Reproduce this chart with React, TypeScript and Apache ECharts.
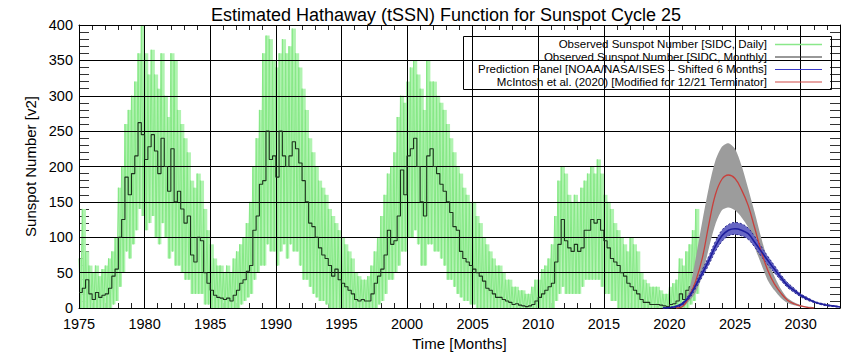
import React, { useEffect, useRef } from "react";
import * as echarts from "echarts";

// ---------------- data ----------------
const START_YEAR = 1975;
const STEP = 0.25; // quarter-year resolution

// Observed monthly sunspot number (quarterly reading of the step curve), from 1975.0
const monthlySSN = [
  22, 28, 40, 20, 12, 22, 15, 18, 20, 28, 45, 55, 100, 125, 185, 160,
  190, 215, 262, 245, 210, 228, 245, 222, 190, 240, 200, 165, 225, 150, 165, 140,
  120, 130, 75, 65, 100, 95, 50, 35, 25, 18, 15, 14, 12, 14, 10, 18,
  25, 35, 40, 52, 60, 110, 130, 175, 180, 250, 210, 215, 185, 250, 215, 200,
  215, 235, 225, 205, 180, 150, 120, 115, 100, 85, 75, 70, 60, 45, 55, 40,
  35, 30, 25, 20, 12, 10, 12, 10, 10, 20, 35, 45, 55, 75, 110, 90,
  95, 130, 195, 160, 215, 225, 240, 200, 150, 130, 215, 225, 200, 190, 175, 165,
  150, 135, 115, 110, 80, 70, 65, 60, 55, 50, 45, 38, 28, 25, 20, 15,
  15, 12, 10, 8, 5, 6, 4, 3, 2, 3, 5, 10, 15, 20, 25, 30,
  35, 65, 90, 125, 95, 85, 80, 90, 80, 85, 110, 110, 125, 120, 125, 110,
  95, 85, 70, 65, 60, 50, 45, 35, 30, 25, 20, 12, 8, 8, 5, 5,
  5, 4, 3, 2, 5, 6, 10, 20, 12, 25, 30, 35, 55,
];

// Daily sunspot number: upper and lower envelope of the daily spikes per quarter
const dailyHigh = [
  70, 140, 80, 60, 50, 60, 45, 55, 60, 70, 80, 100, 170, 200, 260, 280,
  300, 320, 360, 400, 360, 330, 365, 330, 310, 360, 300, 270, 360, 350, 280, 260,
  240, 220, 180, 170, 190, 180, 140, 110, 90, 70, 60, 60, 50, 60, 50, 70,
  80, 90, 100, 120, 150, 200, 240, 280, 360, 385, 380, 350, 340, 360, 380, 360,
  370, 395, 360, 340, 310, 280, 240, 220, 200, 180, 170, 160, 140, 130, 120, 110,
  100, 90, 80, 70, 50, 45, 40, 40, 45, 60, 80, 100, 130, 160, 190, 200,
  220, 270, 300, 290, 320, 340, 350, 330, 310, 280, 350, 320, 320, 300, 290, 280,
  260, 240, 220, 200, 190, 170, 160, 150, 150, 130, 120, 100, 90, 80, 70, 60,
  60, 50, 40, 40, 30, 30, 25, 25, 20, 20, 30, 40, 40, 55, 60, 70,
  90, 130, 180, 200, 190, 160, 150, 160, 150, 170, 180, 190, 200, 190, 210, 190,
  160, 150, 140, 120, 110, 100, 90, 80, 100, 90, 80, 50, 40, 35, 30, 30,
  30, 25, 20, 20, 30, 35, 40, 70, 60, 80, 90, 110, 140,
];
const dailyLow = [
  0, 0, 0, 0, 0, 0, 0, 0, 0, 0, 5, 10, 30, 50, 80, 70,
  90, 110, 140, 130, 110, 120, 130, 100, 90, 120, 100, 70, 80, 60, 60, 50,
  40, 40, 20, 20, 20, 20, 5, 5, 0, 0, 0, 0, 0, 0, 0, 0,
  0, 5, 10, 15, 20, 40, 50, 60, 60, 90, 80, 80, 60, 80, 90, 70,
  90, 80, 80, 60, 40, 40, 30, 20, 15, 10, 10, 5, 0, 0, 0, 0,
  0, 0, 0, 0, 0, 0, 0, 0, 0, 0, 0, 5, 10, 20, 40, 40,
  50, 60, 80, 80, 100, 100, 110, 90, 60, 60, 90, 90, 80, 80, 70, 60,
  40, 40, 30, 20, 15, 10, 10, 5, 5, 0, 0, 0, 0, 0, 0, 0,
  0, 0, 0, 0, 0, 0, 0, 0, 0, 0, 0, 0, 0, 0, 0, 0,
  0, 10, 20, 30, 20, 20, 20, 20, 20, 30, 40, 40, 40, 40, 40, 30,
  20, 20, 10, 10, 0, 0, 0, 0, 0, 0, 0, 0, 0, 0, 0, 0,
  0, 0, 0, 0, 0, 0, 0, 0, 0, 0, 5, 10, 20,
];

// McIntosh et al. (2020) prediction with its range
const mcYears = [
  2020.5, 2021, 2021.5, 2022, 2022.5, 2023, 2023.5, 2024, 2024.5, 2025, 2025.5,
  2026, 2026.5, 2027, 2027.5, 2028, 2028.5, 2029, 2029.5, 2030, 2030.5, 2031,
];
const mcIntosh = [0, 2, 16, 38, 70, 118, 160, 182, 188, 183, 167, 145, 113, 80, 53, 34, 21, 11, 6, 3, 1, 0];
const mcUpper = [0, 3, 25, 70, 122, 170, 208, 228, 233, 225, 201, 169, 135, 99, 67, 45, 27, 14, 8, 4, 2, 1];
const mcLower = [0, 1, 10, 22, 46, 84, 118, 138, 142, 138, 128, 114, 86, 62, 39, 25, 14, 7, 4, 2, 1, 0];

// NOAA/NASA/ISES prediction panel (shifted 6 months) with its range
const noaaYears = [
  2019.5, 2020, 2020.5, 2021, 2021.5, 2022, 2022.5, 2023, 2023.5, 2024, 2024.5, 2025, 2025.5, 2026,
  2026.5, 2027, 2027.5, 2028, 2028.5, 2029, 2029.5, 2030, 2030.5, 2031, 2031.5, 2032, 2032.5, 2033,
];
const noaa = [0, 0.5, 2, 6, 16, 32, 49, 67, 87, 102, 110, 112, 110, 105, 93, 80, 67, 55, 43, 32, 25, 18, 13, 9, 6, 4, 3, 1.5];
const noaaUpper = [0, 1, 3, 8, 19, 36, 54, 73, 94, 110, 118, 121, 119, 113, 101, 87, 73, 60, 47, 36, 28, 20, 15, 10, 7, 5, 3, 2];
const noaaLower = [0, 0, 1, 4, 13, 28, 44, 61, 80, 94, 102, 104, 102, 97, 86, 73, 61, 50, 39, 29, 22, 16, 11, 8, 5, 3, 2, 1];

const legendLabels = [
  "Observed Sunspot Number [SIDC, Daily]",
  "Observed Sunspot Number [SIDC, Monthly]",
  "Prediction Panel [NOAA/NASA/ISES \u2013 Shifted 6 Months]",
  "McIntosh et al. (2020) [Modified for 12/21 Terminator]",
];

// ---------------- styles ----------------
const FONT = "'Liberation Sans', Arial, Helvetica, sans-serif";
const C_DAILY_FILL = "#b0f3b0";
const C_DAILY = "#86e886";
const C_MONTHLY = "#1d331d";
const C_NOAA = "#1f1f9e";
const C_NOAA_BAND = "#6767c4";
const C_MC = "#c8403c";
const C_MC_BAND = "#9c9c9c";
const legendColors = ["#8ae88a", "#333333", "#3a3ac8", "#d04a46"];

function bandSeries(xs: number[], hi: number[], lo: number[], fill: string, z: number) {
  return {
    type: "custom",
    z,
    data: [[xs[0], lo[0]]],
    encode: { x: 0, y: 1 },
    renderItem: (_params: any, api: any) => {
      const pts: number[][] = [];
      for (let i = 0; i < xs.length; i++) pts.push(api.coord([xs[i], hi[i]]));
      for (let i = xs.length - 1; i >= 0; i--) pts.push(api.coord([xs[i], lo[i]]));
      return {
        type: "polygon",
        shape: { points: pts, smooth: 0.25 },
        style: { fill, stroke: "none" },
      };
    },
  };
}

export default function App() {
  const ref = useRef<HTMLDivElement | null>(null);

  useEffect(() => {
    if (!ref.current) return;
    const chart = echarts.init(ref.current, undefined, { renderer: "svg" });

    const monthlyPts: number[][] = monthlySSN.map((v, i) => [START_YEAR + i * STEP, v]);
    monthlyPts.push([START_YEAR + monthlySSN.length * STEP, monthlySSN[monthlySSN.length - 1]]);

    const dailyData: number[][] = dailyHigh.map((h, i) => [START_YEAR + i * STEP, dailyLow[i], h]);
    const dailyZigzag: number[][] = [];
    dailyHigh.forEach((h, i) => {
      const t = START_YEAR + i * STEP;
      dailyZigzag.push([t, h]);
      dailyZigzag.push([t + STEP / 2, dailyLow[i]]);
    });

    const pair = (xs: number[], ys: number[]) => xs.map((x, i) => [x, ys[i]]);

    const grid = { left: 79, right: 24, top: 25, bottom: 52 };
    const axisLabelStyle = { color: "#000", fontSize: 14.5, fontFamily: FONT };

    const rowsY = [44, 56.5, 69, 81.5];
    const graphics: any[] = [
      {
        type: "rect",
        z: 100,
        shape: { x: 463.5, y: 36.5, width: 368, height: 53 },
        style: { fill: "none", stroke: "#000", lineWidth: 1 },
      },
    ];
    legendLabels.forEach((label, i) => {
      graphics.push({
        type: "text",
        z: 100,
        x: 767,
        y: rowsY[i],
        style: {
          text: label,
          align: "right",
          verticalAlign: "middle",
          fill: "#000",
          font: `11.5px ${FONT}`,
        },
      });
      graphics.push({
        type: "line",
        z: 100,
        shape: { x1: 775, y1: rowsY[i] + 0.5, x2: 822, y2: rowsY[i] + 0.5 },
        style: { stroke: legendColors[i], lineWidth: i === 0 ? 1.5 : 1.2 },
      });
    });

    const option: any = {
      animation: false,
      backgroundColor: "#fff",
      title: {
        text: "Estimated Hathaway (tSSN) Function for Sunspot Cycle 25",
        left: 441,
        top: 1,
        textAlign: "center",
        textStyle: { fontSize: 18, fontWeight: "normal", color: "#000", fontFamily: FONT },
      },
      grid,
      xAxis: [
        {
          type: "value",
          position: "bottom",
          z: 2,
          min: 1975,
          max: 2033,
          interval: 5,
          name: "Time [Months]",
          nameLocation: "middle",
          nameGap: 21,
          nameTextStyle: { color: "#000", fontSize: 15, fontFamily: FONT },
          axisLine: { show: true, onZero: false, lineStyle: { color: "#000", width: 1 } },
          axisTick: { show: false },
          axisLabel: {
            ...axisLabelStyle,
            margin: 8,
            showMaxLabel: false,
            formatter: (v: number) => (v % 5 === 0 ? String(v) : ""),
          },
          splitLine: { show: true, lineStyle: { color: "#000", width: 1 } },
        },
        {
          type: "value",
          position: "bottom",
          min: 1975,
          max: 2033,
          interval: 1,
          axisLine: { show: false, onZero: false },
          axisTick: { show: true, inside: true, length: 5, lineStyle: { color: "#222" } },
          axisLabel: { show: false },
          splitLine: { show: false },
        },
        {
          type: "value",
          position: "top",
          min: 1975,
          max: 2033,
          interval: 1,
          axisLine: { show: true, onZero: false, lineStyle: { color: "#000" } },
          axisTick: { show: true, inside: true, length: 5, lineStyle: { color: "#222" } },
          axisLabel: { show: false },
          splitLine: { show: false },
        },
      ],
      yAxis: [
        {
          type: "value",
          position: "left",
          z: 2,
          min: 0,
          max: 400,
          interval: 50,
          name: "Sunspot Number [v2]",
          nameLocation: "middle",
          nameGap: 40,
          nameRotate: 90,
          nameTextStyle: { color: "#000", fontSize: 15, fontFamily: FONT },
          axisLine: { show: true, onZero: false, lineStyle: { color: "#000" } },
          axisTick: { show: false },
          axisLabel: { ...axisLabelStyle, margin: 6 },
          splitLine: { show: true, lineStyle: { color: "#000", width: 1 } },
        },
        {
          type: "value",
          position: "left",
          min: 0,
          max: 400,
          interval: 10,
          axisLine: { show: false, onZero: false },
          axisTick: { show: true, inside: true, length: 10, lineStyle: { color: "#333" } },
          axisLabel: { show: false },
          splitLine: { show: false },
        },
        {
          type: "value",
          position: "right",
          min: 0,
          max: 400,
          interval: 10,
          axisLine: { show: true, onZero: false, lineStyle: { color: "#000" } },
          axisTick: { show: true, inside: true, length: 10, lineStyle: { color: "#333" } },
          axisLabel: { show: false },
          splitLine: { show: false },
        },
      ],
      series: [
        {
          name: "dailyRange",
          type: "custom",
          z: 1,
          data: dailyData,
          encode: { x: 0, y: [1, 2] },
          renderItem: (_params: any, api: any) => {
            const t = api.value(0);
            const p0 = api.coord([t, api.value(1)]);
            const p1 = api.coord([t + STEP, api.value(2)]);
            return {
              type: "rect",
              shape: { x: p0[0], y: p1[1], width: p1[0] - p0[0] + 0.4, height: p0[1] - p1[1] },
              style: { fill: C_DAILY_FILL, stroke: "none" },
            };
          },
        },
        {
          name: "daily",
          type: "line",
          z: 1,
          data: dailyZigzag,
          showSymbol: false,
          lineStyle: { color: C_DAILY, width: 1 },
        },
        {
          name: "monthly",
          type: "line",
          data: monthlyPts,
          step: "end",
          showSymbol: false,
          lineStyle: { color: C_MONTHLY, width: 1.1 },
          z: 3,
        },
        bandSeries(mcYears, mcUpper, mcLower, C_MC_BAND, 4),
        bandSeries(noaaYears, noaaUpper, noaaLower, C_NOAA_BAND, 5),
        {
          name: "noaaUpperEdge",
          type: "line",
          data: pair(noaaYears, noaaUpper),
          smooth: 0.4,
          showSymbol: false,
          lineStyle: { color: "#2a2a8a", width: 1, type: [2, 2] },
          z: 6,
        },
        {
          name: "noaaLowerEdge",
          type: "line",
          data: pair(noaaYears, noaaLower),
          smooth: 0.4,
          showSymbol: false,
          lineStyle: { color: "#2a2a8a", width: 1, type: [2, 2] },
          z: 6,
        },
        {
          name: "McIntosh",
          type: "line",
          data: pair(mcYears, mcIntosh),
          smooth: 0.4,
          showSymbol: false,
          lineStyle: { color: C_MC, width: 1.3 },
          z: 7,
        },
        {
          name: "NOAA",
          type: "line",
          data: pair(noaaYears, noaa),
          smooth: 0.4,
          showSymbol: false,
          lineStyle: { color: C_NOAA, width: 1.6 },
          z: 8,
        },
      ],
      graphic: graphics,
    };

    chart.setOption(option);
    return () => chart.dispose();
  }, []);

  return (
    <div
      ref={ref}
      style={{ position: "absolute", left: 0, top: 0, width: 864, height: 360, background: "#fff" }}
    />
  );
}
